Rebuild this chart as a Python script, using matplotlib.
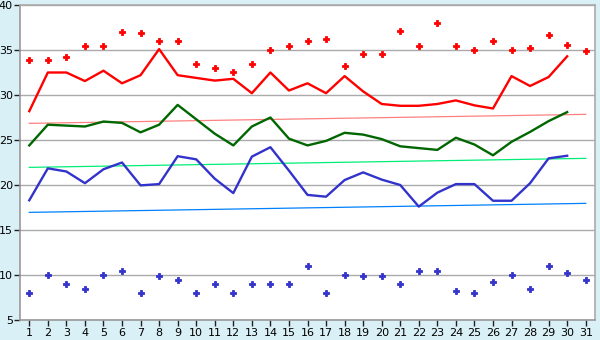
import matplotlib
matplotlib.use("Agg")
import matplotlib.pyplot as plt

days = list(range(1, 32))
days_line = list(range(1, 31))

red_line = [28.2, 32.5, 32.5, 31.55, 32.7, 31.3, 32.2, 35.1, 32.2, 31.9,
            31.6, 31.8, 30.2, 32.5, 30.5, 31.3, 30.2, 32.1, 30.4, 29.0,
            28.8, 28.8, 29.0, 29.4, 28.85, 28.5, 32.1, 31.0, 32.0, 34.3]
red_dots = [33.85, 33.85, 34.2, 35.5, 35.4, 37.0, 36.85, 36.0, 36.0, 33.5,
            32.95, 32.6, 33.4, 34.95, 35.4, 36.0, 36.2, 33.2, 34.55, 34.55,
            37.1, 35.4, 38.0, 35.4, 34.95, 36.0, 34.95, 35.2, 36.7, 35.6, 34.85]
green_line = [24.4, 26.7, 26.6, 26.5, 27.05, 26.9, 25.85, 26.7, 28.9, 27.3,
              25.7, 24.4, 26.5, 27.5, 25.15, 24.4, 24.9, 25.8, 25.6, 25.1,
              24.3, 24.1, 23.9, 25.25, 24.5, 23.3, 24.8, 25.9, 27.1, 28.1]
blue_line = [18.3, 21.85, 21.5, 20.2, 21.75, 22.5, 19.96, 20.1, 23.2, 22.85,
             20.7, 19.1, 23.15, 24.2, 21.6, 18.9, 18.7, 20.55, 21.4, 20.6,
             20.0, 17.6, 19.15, 20.1, 20.1, 18.25, 18.25, 20.2, 22.96, 23.25]
blue_dots = [8.0, 10.0, 9.0, 8.5, 10.0, 10.4, 8.0, 9.85, 9.5, 8.0,
             9.0, 8.0, 9.0, 9.0, 9.0, 11.0, 8.0, 10.0, 9.85, 9.85,
             9.0, 10.4, 10.5, 8.2, 8.0, 9.2, 10.0, 8.5, 11.0, 10.2, 9.5]
trend_days = [1, 31]
red_trend = [26.85, 27.85]
green_trend = [21.96, 22.96]
blue_trend = [16.96, 17.96]

bg = "#d9f0f7"
fig = plt.figure(figsize=(6, 3.4), dpi=100, facecolor=bg)
ax = fig.add_axes([20/600, 20/340, 575/600, 315/340])
ax.set_facecolor("white")

ax.plot(trend_days, red_trend, color="#ff8080", lw=0.9, zorder=2)
ax.plot(trend_days, green_trend, color="#00ee77", lw=0.9, zorder=2)
ax.plot(trend_days, blue_trend, color="#0080ff", lw=0.9, zorder=2)

ax.plot(days_line, red_line, color="#ff0000", lw=1.7, zorder=3)
ax.plot(days_line, green_line, color="#006600", lw=1.7, zorder=3)
ax.plot(days_line, blue_line, color="#3333cc", lw=1.7, zorder=3)

for vals, col in ((red_dots, "#ff0000"), (blue_dots, "#3333cc")):
    ax.plot(days, vals, ls="none", marker="P", ms=4.5, color=col,
            markeredgecolor=col, markeredgewidth=0.6, zorder=4)

ax.set_xlim(0.5, 31.5)
ax.set_ylim(5, 40)
ax.set_yticks(range(5, 41, 5))
ax.set_xticks(days)
ax.set_xticklabels([str(d) for d in days])
ax.yaxis.grid(True, color="#aaaaaa", lw=1)
ax.set_axisbelow(True)
for s in ax.spines.values():
    s.set_color("#aaaaaa")
    s.set_linewidth(1.2)
ax.spines["left"].set_color("#999999")
ax.spines["bottom"].set_color("#999999")
ax.tick_params(axis="both", direction="out", length=4, width=1,
               color="#222222", labelsize=8, pad=2)
ax.tick_params(axis="y", pad=1)

fig.savefig("out.png", dpi=100, facecolor=bg)
